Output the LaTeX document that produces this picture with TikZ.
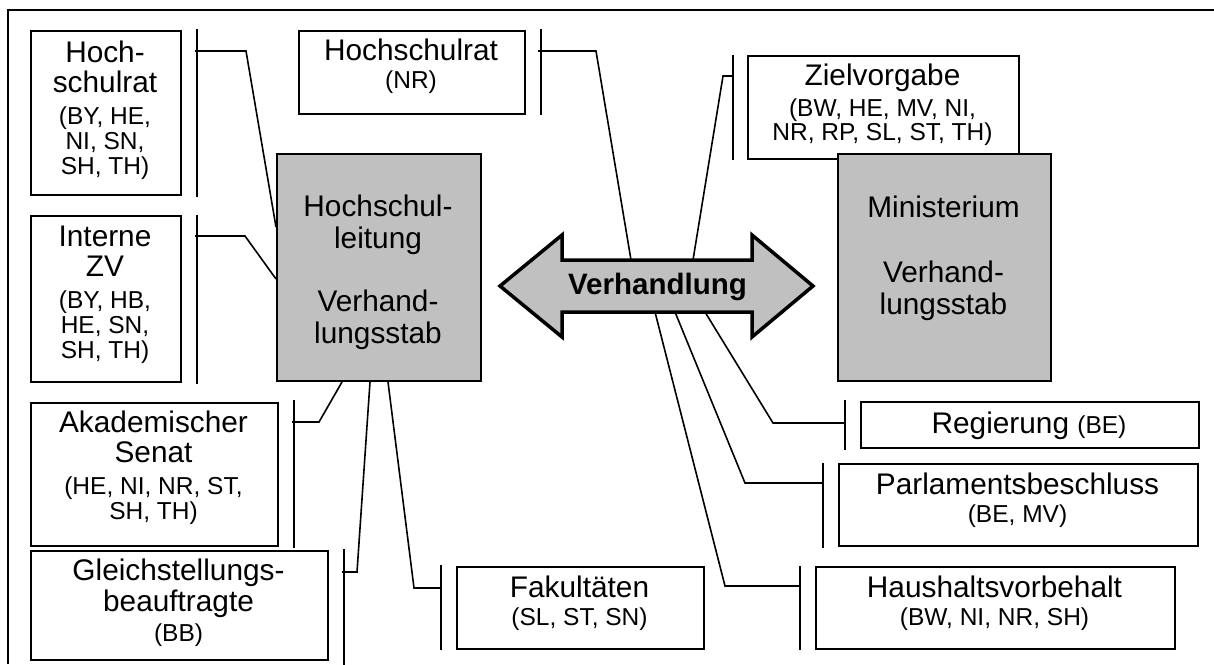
\documentclass[tikz,border=0pt]{standalone}
\usepackage{fontspec}
\setmainfont{Liberation Sans}
\usetikzlibrary{calc}
\definecolor{boxgray}{RGB}{192,192,192}
\newcommand{\mainsz}{\fontsize{29.8}{30}\selectfont}
\newcommand{\smallsz}{\fontsize{24.5}{25}\selectfont}
\newcommand{\fs}{\rule{0pt}{22pt}}
\begin{document}
\begin{tikzpicture}[x=1pt,y=-1pt,
  box/.style={draw, line width=2pt, fill=white, inner sep=0pt, anchor=north west},
  graybox/.style={box, fill=boxgray},
  txt/.style={align=center, font=\mainsz, inner sep=0pt, anchor=north},
  bar/.style={line width=2pt},
  conn/.style={line width=1.6pt, line join=miter},
  frame/.style={line width=2pt},
  bigarrow/.style={line width=3.5pt, fill=boxgray, line join=miter}]
\useasboundingbox (0,0) rectangle (1214,664);
% outer frame
\draw[frame] (1214,10) -- (8,10) -- (8,664);

% boxes
\node[box, minimum width=150, minimum height=164] (A) at (30,30) {};
\node[box, minimum width=150, minimum height=166] (B) at (30,215) {};
\node[box, minimum width=247, minimum height=143] (C) at (30,402) {};
\node[box, minimum width=297, minimum height=109] (D) at (30,550) {};
\node[box, minimum width=247, minimum height=82] (E) at (456,566) {};
\node[box, minimum width=226, minimum height=83] (F) at (298,30) {};
\node[box, minimum width=271, minimum height=103] (Z) at (747,55) {};
\node[graybox, minimum width=204, minimum height=227] (HL) at (276,153) {};
\node[graybox, minimum width=213, minimum height=227] (M) at (837,153) {};
\node[box, minimum width=338, minimum height=46] (R) at (860,401) {};
\node[box, minimum width=359, minimum height=82] (P) at (838,463) {};
\node[box, minimum width=359, minimum height=82] (H) at (815,566) {};

% texts
\node[txt] (At) at (105,40.5) {\fs Hoch-\\schulrat\\[2pt]{\smallsz (BY, HE,}\\[-5pt]{\smallsz NI, SN,}\\[-5pt]{\smallsz SH, TH)}};
\node[txt] (Bt) at (105,224) {\fs Interne\\ZV\\[2pt]{\smallsz (BY, HB,}\\[-5pt]{\smallsz HE, SN,}\\[-5pt]{\smallsz SH, TH)}};
\node[txt] (Ct) at (153.5,410) {\fs Akademischer\\Senat\\[2pt]{\smallsz (HE, NI, NR, ST,}\\[-5pt]{\smallsz SH, TH)}};
\node[txt] (Dt) at (178.5,558) {\fs Gleichstellungs-\\[1pt]beauftragte\\{\smallsz (BB)}};
\node[txt] (Et) at (579.5,575) {\fs Fakultäten\\[-2pt]{\smallsz (SL, ST, SN)}};
\node[txt] (Ft) at (411,38) {\fs Hochschulrat\\[-2pt]{\smallsz (NR)}};
\node[txt] (Zt) at (882.5,63) {\fs Zielvorgabe\\[1pt]{\smallsz (BW, HE, MV, NI,}\\[-6pt]{\smallsz NR, RP, SL, ST, TH)}};
\node[txt] (HLt) at (378,194) {\fs Hochschul-\\[2pt]leitung\\[33pt]Verhand-\\[2pt]lungsstab};
\node[txt] (Mt) at (943.5,195) {\fs Ministerium\\[35pt]Verhand-\\[2pt]lungsstab};
\node[txt] (Rt) at (1029,411) {\fs Regierung {\smallsz (BE)}};
\node[txt] (Pt) at (1017.5,472) {\fs Parlamentsbeschluss\\[-2pt]{\smallsz (BE, MV)}};
\node[txt] (Ht) at (994.5,575) {\fs Haushaltsvorbehalt\\[-2pt]{\smallsz (BW, NI, NR, SH)}};

% bracket bars
\draw[bar] ([xshift=15pt,yshift=1pt]A.north east) -- ([xshift=15pt,yshift=-1pt]A.south east);
\draw[bar] ([xshift=15pt,yshift=0pt]B.north east) -- ([xshift=15pt,yshift=-1pt]B.south east);
\draw[bar] ([xshift=15pt,yshift=2pt]C.north east) -- ([xshift=15pt,yshift=-1pt]C.south east);
\draw[bar] ([xshift=15pt,yshift=1pt]D.north east) -- ([xshift=15pt,yshift=-5pt]D.south east);
\draw[bar] ([xshift=-15pt,yshift=1pt]E.north west) -- ([xshift=-15pt]E.south west);
\draw[bar] ([xshift=15pt,yshift=1pt]F.north east) -- ([xshift=15pt]F.south east);
\draw[bar] ([xshift=-14pt]Z.north west) -- ([xshift=-14pt]Z.south west);
\draw[bar] ([xshift=-15pt,yshift=1pt]R.north west) -- ([xshift=-15pt,yshift=-1pt]R.south west);
\draw[bar] ([xshift=-15pt]P.north west) -- ([xshift=-15pt,yshift=-1pt]P.south west);
\draw[bar] ([xshift=-15pt]H.north west) -- ([xshift=-15pt]H.south west);

% stub and kink coordinates
\coordinate (Ab) at (195,51);  \coordinate (Ak) at (246,51);
\coordinate (Bb) at (195,236); \coordinate (Bk) at (245,236);
\coordinate (Cb) at (292,422); \coordinate (Ck) at (319,422);
\coordinate (Db) at (342,572); \coordinate (Dk) at (357,572);
\coordinate (Eb) at (441,588); \coordinate (Ek) at (414,588);
\coordinate (Fb) at (538,51);  \coordinate (Fk) at (596,51);
\coordinate (Zb) at (733,76);  \coordinate (Zk) at (723,76);
\coordinate (Rb) at (845,423); \coordinate (Rk) at (773,423);
\coordinate (Pb) at (823,483); \coordinate (Pk) at (745,483);
\coordinate (Hb) at (800,586); \coordinate (Hk) at (725,586);
% attachment points on the negotiation arrow
\coordinate (vF) at (631,260);
\coordinate (vZ) at (693,260);
\coordinate (vR) at (705,312);
\coordinate (vP) at (675,312);
\coordinate (vH) at (655,312);

% connectors
\draw[conn] (Ab) -- (Ak) -- ([yshift=-74pt]HL.north west);
\draw[conn] (Bb) -- (Bk) -- ([yshift=-126pt]HL.north west);
\draw[conn] (Cb) -- (Ck) -- ([xshift=66pt]HL.south west);
\draw[conn] (Db) -- (Dk) -- ([xshift=94pt]HL.south west);
\draw[conn] (Eb) -- (Ek) -- ([xshift=112pt]HL.south west);
\draw[conn] (Fb) -- (Fk) -- (vF);
\draw[conn] (Zb) -- (Zk) -- (vZ);
\draw[conn] (Rb) -- (Rk) -- (vR);
\draw[conn] (Pb) -- (Pk) -- (vP);
\draw[conn] (Hb) -- (Hk) -- (vH);

% negotiation double arrow
\draw[bigarrow] (500,286) -- (562,235) -- (562,260) -- (752,260) -- (752,235)
  -- (813,286) -- (752,337) -- (752,312) -- (562,312) -- (562,337) -- cycle;
\node[inner sep=0pt, anchor=base, font=\fontsize{29.5}{30}\selectfont\bfseries] (V) at (657.5,294) {Verhandlung};
\end{tikzpicture}
\end{document}
